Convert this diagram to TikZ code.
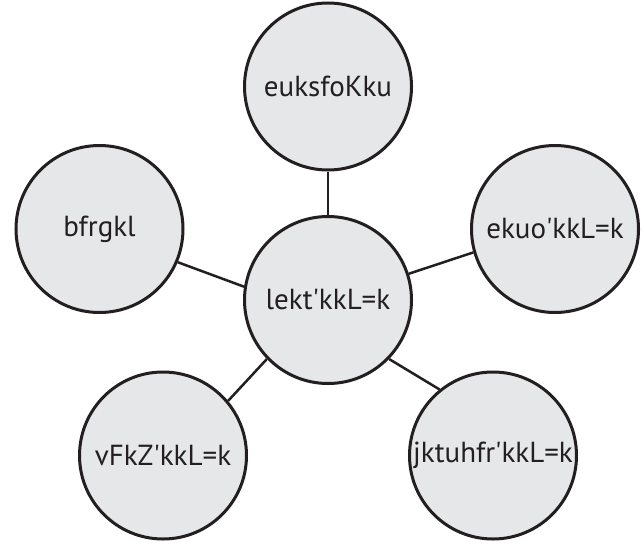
\documentclass[tikz,border=0pt]{standalone}
\usepackage{fontspec}
\setmainfont{PT Sans}
\definecolor{bubblefill}{HTML}{E6E7E8}
\definecolor{inkline}{HTML}{231F20}
\begin{document}
\begin{tikzpicture}[x=1pt,y=-1pt,
  bubble/.style={circle, draw=inkline, fill=bubblefill, line width=3pt,
    minimum size=167pt, inner sep=0pt, text=inkline,
    font=\fontsize{29}{34}\selectfont},
  spoke/.style={draw=inkline, line width=2.5pt}]
\useasboundingbox (0,0) rectangle (644,543);
% concept bubbles
\node[bubble] (t)  at (328,86.5)  {euksfoKku};
\node[bubble] (l)  at (99.5,229)  {bfrgkl};
\node[bubble] (r)  at (555,229)   {ekuo\textquotesingle kkL=k};
\node[bubble] (c)  at (328,300)   {lekt\textquotesingle kkL=k};
\node[bubble] (bl) at (163,455.5) {vFkZ\textquotesingle kkL=k};
\node[bubble] (br) at (493,455.5) {jktuhfr\textquotesingle kkL=k};
% spokes from the hub
\draw[spoke] (c.north) -- (t.south);
\draw[spoke] (c.171) -- (l.-23);
\draw[spoke] (c.18) -- (r.196);
\draw[spoke] (c.224) -- (bl.40);
\draw[spoke] (c.-44) -- (br.129);
\end{tikzpicture}
\end{document}
